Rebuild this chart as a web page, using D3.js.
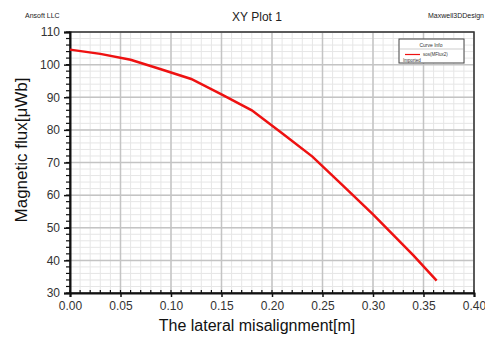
<!DOCTYPE html>
<html>
<head>
<meta charset="utf-8">
<script src="https://cdn.jsdelivr.net/npm/d3@7"></script>
<style>
  body { margin: 0; background: #fff; }
  svg { display: block; font-family: "Liberation Sans", Arial, sans-serif; }
</style>
</head>
<body>
<div id="graph"></div>
<script>
// curve
var xValues = [0, 0.03, 0.06, 0.09, 0.12, 0.15, 0.18, 0.21, 0.24, 0.27, 0.30, 0.34, 0.363];
var fluxValues = [104.6, 103.3, 101.5, 98.6, 95.6, 90.9, 86.0, 79.0, 71.8, 63.0, 54.1, 41.5, 33.8];
var xTicks = [0, 0.05, 0.10, 0.15, 0.20, 0.25, 0.30, 0.35, 0.40];
var yTicks = [30, 40, 50, 60, 70, 80, 90, 100, 110];

window.onload = start;

function start() {
    var width = 485;
    var height = 339;
    var left = 70, right = 474, top = 32, bottom = 293;

    var svg = d3.select('#graph').append('svg')
        .attr('width', width)
        .attr('height', height);

    var x = d3.scaleLinear().domain([0, 0.4]).range([left, right]);
    var y = d3.scaleLinear().domain([30, 110]).range([bottom, top]);

    // minor grid
    var g = svg.append('g');
    g.selectAll('.vminor').data(d3.range(0, 0.4001, 0.01)).enter()
        .append('line')
        .attr('x1', function(d) { return x(d); }).attr('x2', function(d) { return x(d); })
        .attr('y1', top).attr('y2', bottom)
        .attr('stroke', '#e6e6e6').attr('stroke-width', 1);
    g.selectAll('.hminor').data(d3.range(30, 110.01, 2)).enter()
        .append('line')
        .attr('y1', function(d) { return y(d); }).attr('y2', function(d) { return y(d); })
        .attr('x1', left).attr('x2', right)
        .attr('stroke', '#e6e6e6').attr('stroke-width', 1);
    // major grid
    g.selectAll('.vmajor').data(xTicks).enter()
        .append('line')
        .attr('x1', function(d) { return x(d); }).attr('x2', function(d) { return x(d); })
        .attr('y1', top).attr('y2', bottom)
        .attr('stroke', '#c4c4c4').attr('stroke-width', 1.5);
    g.selectAll('.hmajor').data(yTicks).enter()
        .append('line')
        .attr('y1', function(d) { return y(d); }).attr('y2', function(d) { return y(d); })
        .attr('x1', left).attr('x2', right)
        .attr('stroke', '#c4c4c4').attr('stroke-width', 1.5);

    // frame
    svg.append('rect')
        .attr('x', left).attr('y', top)
        .attr('width', right - left).attr('height', bottom - top)
        .attr('fill', 'none').attr('stroke', '#333').attr('stroke-width', 1.5);

    // axes
    var xAxis = d3.axisBottom(x).tickValues(xTicks).tickSize(4).tickFormat(d3.format('.2f'));
    var yAxis = d3.axisLeft(y).tickValues(yTicks).tickSize(6).tickFormat(d3.format('d'));

    var xa = svg.append('g').attr('transform', 'translate(0,' + bottom + ')').call(xAxis);
    var ya = svg.append('g').attr('transform', 'translate(' + left + ',0)').call(yAxis);
    [xa, ya].forEach(function(a) {
        a.select('.domain').attr('stroke', '#111').attr('stroke-width', 2);
        a.selectAll('.tick line').attr('stroke', '#111').attr('stroke-width', 1.5);
        a.selectAll('text').attr('fill', '#333').attr('font-size', 12)
            .attr('font-family', '"Liberation Sans", Arial, sans-serif');
    });
    xa.selectAll('text').attr('dy', '0.85em');
    ya.selectAll('text').attr('dx', '-1px');

    // minor ticks
    svg.append('g').selectAll('line').data(d3.range(0, 0.4001, 0.01)).enter()
        .append('line')
        .attr('x1', function(d) { return x(d); }).attr('x2', function(d) { return x(d); })
        .attr('y1', bottom).attr('y2', bottom - 3)
        .attr('stroke', '#111').attr('stroke-width', 1.2);
    svg.append('g').selectAll('line').data(d3.range(30, 110.01, 2)).enter()
        .append('line')
        .attr('y1', function(d) { return y(d); }).attr('y2', function(d) { return y(d); })
        .attr('x1', left).attr('x2', left - 4)
        .attr('stroke', '#111').attr('stroke-width', 1.2);

    // curve
    var pts = xValues.map(function(v, i) { return [v, fluxValues[i]]; });
    var line = d3.line()
        .x(function(d) { return x(d[0]); })
        .y(function(d) { return y(d[1]); });
    svg.append('path').datum(pts)
        .attr('d', line)
        .attr('fill', 'none')
        .attr('stroke', '#ee1111')
        .attr('stroke-width', 2.5);

    // titles
    svg.append('text').attr('x', 257).attr('y', 21)
        .attr('text-anchor', 'middle').attr('font-size', 12).attr('fill', '#222')
        .text('XY Plot 1');
    svg.append('text').attr('x', 25).attr('y', 18)
        .attr('font-size', 7).attr('fill', '#222')
        .text('Ansoft LLC');
    svg.append('text').attr('x', 484).attr('y', 18)
        .attr('text-anchor', 'end').attr('font-size', 7).attr('fill', '#222')
        .text('Maxwell3DDesign');

    svg.append('text').attr('x', 257).attr('y', 331)
        .attr('text-anchor', 'middle').attr('font-size', 16).attr('fill', '#111')
        .text('The lateral misalignment[m]');
    svg.append('text')
        .attr('transform', 'translate(27,150) rotate(-90)')
        .attr('text-anchor', 'middle').attr('font-size', 17).attr('fill', '#111')
        .text('Magnetic  flux[\u03bcWb]');

    // legend
    var lg = svg.append('g');
    lg.append('rect').attr('x', 399).attr('y', 39).attr('width', 65).attr('height', 24)
        .attr('fill', '#fff').attr('stroke', '#444').attr('stroke-width', 1);
    lg.append('line').attr('x1', 399).attr('x2', 464).attr('y1', 49).attr('y2', 49)
        .attr('stroke', '#999').attr('stroke-width', 0.5);
    lg.append('text').attr('x', 431).attr('y', 46.5).attr('text-anchor', 'middle')
        .attr('font-size', 5).attr('fill', '#333').text('Curve Info');
    lg.append('line').attr('x1', 405).attr('x2', 420).attr('y1', 54.5).attr('y2', 54.5)
        .attr('stroke', '#ee1111').attr('stroke-width', 1.2);
    lg.append('text').attr('x', 423).attr('y', 56).attr('font-size', 4.5).attr('fill', '#333')
        .text('sos(MFlux2)');
    lg.append('text').attr('x', 403).attr('y', 61.5).attr('font-size', 4.5).attr('fill', '#333')
        .text('Imported');
}
</script>
</body>
</html>
